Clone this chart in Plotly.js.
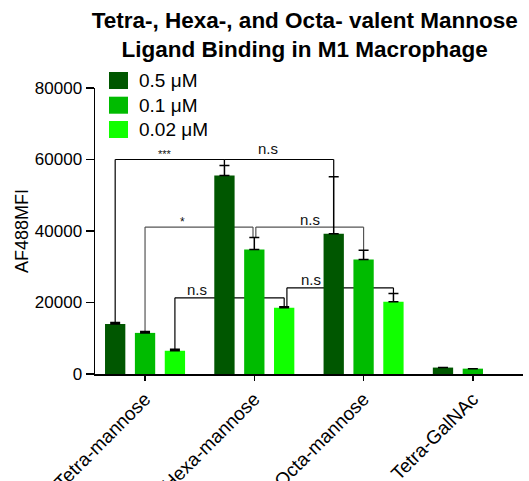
<!DOCTYPE html>
<html>
<head>
<meta charset="utf-8">
<script src="https://cdn.plot.ly/plotly-3.0.1.min.js"></script>
<style>html,body{margin:0;padding:0;background:#fff;}#chart{width:529px;height:481px;}</style>
</head>
<body>
<div id="chart"></div>
<script>
// ---- data ----
var categories = ["Tetra-mannose", "Hexa-mannose", "Octa-mannose", "Tetra-GalNAc"];
var seriesNames = ["0.5 \u03bcM", "0.1 \u03bcM", "0.02 \u03bcM"];
var values05 = [14000, 55500, 39200, 1800];
var values01 = [11500, 34800, 32000, 1500];
var values002 = [6500, 18500, 20200, null];
var err05 = [400, 2800, 16000, 0];
var err01 = [400, 3400, 2600, 0];
var err002 = [400, 300, 2300, null];
var colors = ["#005700", "#00bb00", "#11ff00"];
var yTickVals = [0, 20000, 40000, 60000, 80000];

// significance comparisons: [category, series] pairs, bracket level, label
var comparisons = [
  {a: [0, 0], b: [1, 0], level: 60000, label: "***", lx: 0.183, ly: 61600, size: 11, color: "#000", da: 0, db: 0},
  {a: [1, 0], b: [2, 0], level: 60000, label: "n.s", lx: 1.126, ly: 63200, size: 15, color: "#000", da: 0, db: 0},
  {a: [0, 1], b: [1, 1], level: 41100, label: "*", lx: 0.342, ly: 42600, size: 12, color: "#555", da: 0, db: -0.012},
  {a: [1, 1], b: [2, 1], level: 41100, label: "n.s", lx: 1.511, ly: 43300, size: 15, color: "#555", da: 0.014, db: 0},
  {a: [0, 2], b: [1, 2], level: 21300, label: "n.s", lx: 0.473, ly: 23700, size: 15, color: "#000", da: 0, db: 0},
  {a: [1, 2], b: [2, 2], level: 24100, label: "n.s", lx: 1.517, ly: 26300, size: 15, color: "#000", da: 0.025, db: 0}
];

var allValues = [values05, values01, values002];
var allErr = [err05, err01, err002];
var FONT = "Arial, 'Liberation Sans', sans-serif";
var slot = 0.82 / 3;

var traces = allValues.map(function (vals, i) {
  return {
    type: "bar",
    name: seriesNames[i],
    x: categories,
    y: vals,
    marker: {color: colors[i], line: {width: 0}},
    error_y: {type: "data", symmetric: false, array: allErr[i], arrayminus: allErr[i].map(function () { return 0; }),
      color: "#000", thickness: 1.5, width: 5},
    showlegend: false,
    hoverinfo: "skip"
  };
});

var shapes = [];
var annotations = [];

function topOf(pair) {
  var v = allValues[pair[1]][pair[0]];
  var e = allErr[pair[1]][pair[0]] || 0;
  return v + e;
}
function xOf(pair) { return pair[0] + (pair[1] - 1) * slot; }

comparisons.forEach(function (c) {
  var x1 = xOf(c.a) + c.da, x2 = xOf(c.b) + c.db;
  var ln = {color: c.color, width: 1.2};
  shapes.push({type: "line", layer: "below", xref: "x", yref: "y", x0: x1, x1: x1, y0: topOf(c.a), y1: c.level, line: ln});
  shapes.push({type: "line", layer: "below", xref: "x", yref: "y", x0: x1, x1: x2, y0: c.level, y1: c.level, line: ln});
  shapes.push({type: "line", layer: "below", xref: "x", yref: "y", x0: x2, x1: x2, y0: topOf(c.b), y1: c.level, line: ln});
  annotations.push({xref: "x", yref: "y", x: c.lx, y: c.ly, text: c.label, showarrow: false,
    font: {family: FONT, size: c.size, color: "#111"}});
});

// manual legend (large squares like the reference)
var legTop = [1.056, 0.9696, 0.8846];
var legH = 0.0595;
seriesNames.forEach(function (n, i) {
  shapes.push({type: "rect", xref: "paper", yref: "paper", x0: 0.0327, x1: 0.0771,
    y0: legTop[i] - legH, y1: legTop[i], fillcolor: colors[i], line: {width: 0}});
  annotations.push({xref: "paper", yref: "paper", x: 0.097, y: legTop[i] - legH / 2, xanchor: "left", yanchor: "middle",
    text: n, showarrow: false, font: {family: FONT, size: 19, color: "#000"}});
});

var layout = {
  width: 529, height: 481,
  margin: {l: 95, r: 6, t: 88, b: 107},
  paper_bgcolor: "#fff", plot_bgcolor: "#fff",
  font: {family: FONT, color: "#000"},
  title: {text: "<b>Tetra-, Hexa-, and Octa- valent Mannose<br>Ligand Binding in M1 Macrophage</b>",
    font: {family: FONT, size: 22.5, color: "#000"}, xref: "paper", x: 0.49, xanchor: "center",
    yref: "container", y: 0.942, yanchor: "top"},
  barmode: "group", bargap: 0.18, bargroupgap: 0.32,
  showlegend: false,
  xaxis: {type: "category", range: [-0.458, 3.459], showline: true, linecolor: "#000", linewidth: 1.5,
    ticks: "outside", ticklen: 5, tickwidth: 1.5, tickcolor: "#000", tickangle: -45,
    tickfont: {family: FONT, size: 19, color: "#000"}, showgrid: false, zeroline: false, fixedrange: true},
  yaxis: {range: [0, 80000], tickvals: yTickVals, ticktext: yTickVals.map(String), showline: true, linecolor: "#000",
    linewidth: 1.5, ticks: "outside", ticklen: 8, tickwidth: 1.5, tickcolor: "#000",
    tickfont: {family: FONT, size: 17, color: "#000"}, showgrid: false, zeroline: false,
    title: {text: "AF488MFI", font: {family: FONT, size: 18, color: "#000"}, standoff: 1}},
  shapes: shapes,
  annotations: annotations
};

Plotly.newPlot("chart", traces, layout, {staticPlot: true, displayModeBar: false});
</script>
</body>
</html>
